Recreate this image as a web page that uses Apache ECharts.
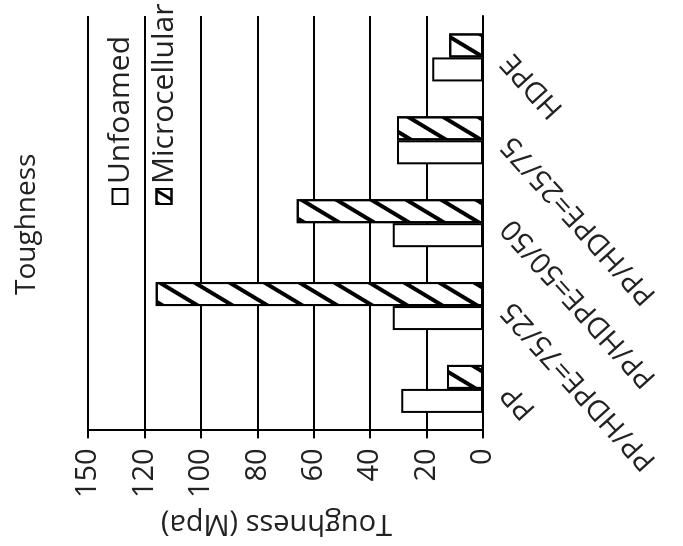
<!DOCTYPE html>
<html>
<head>
<meta charset="utf-8">
<script src="https://cdn.jsdelivr.net/npm/echarts@6.0.0/dist/echarts.min.js"></script>
<style>
  html, body { margin: 0; padding: 0; background: #fff; width: 683px; height: 546px; overflow: hidden; }
  /* the figure is printed turned on its side, so draw it upright and turn the box */
  #main { position: absolute; left: 0; top: 0; width: 546px; height: 683px;
          transform-origin: 0 0; transform: translateY(546px) rotate(-90deg); }
</style>
</head>
<body>
<div id="main"></div>
<script>
var categories = ['PP', 'PP/HDPE=75/25', 'PP/HDPE=50/50', 'PP/HDPE=25/75', 'HDPE'];
var unfoamed = [29, 32, 32, 30.5, 18];
var microcellular = [12.8, 116, 66, 30.5, 12];
var tickLabels = ['0', '20', '40', '60', '80', '100', '120', '150'];

var font = 'Open Sans';
var chart = echarts.init(document.getElementById('main'), null, { width: 546, height: 683 });

var hatch = {
  symbol: 'rect',
  symbolSize: 1,
  color: '#000',
  dashArrayX: [1, 0],
  dashArrayY: [4, 14],
  rotation: -Math.PI * 59 / 180
};
// smaller stripes so one crosses the little legend box
var hatchSmall = {
  symbol: 'rect',
  symbolSize: 1,
  color: '#000',
  dashArrayX: [1, 0],
  dashArrayY: [3, 7],
  rotation: -Math.PI * 59 / 180
};

var option = {
  backgroundColor: '#fff',
  animation: false,
  title: {
    text: 'Toughness',
    left: 246,
    top: 8,
    textStyle: { fontFamily: font, fontSize: 28, fontWeight: 'normal', color: '#222' }
  },
  legend: {
    orient: 'vertical',
    left: 341,
    top: 105,
    padding: 0,
    itemWidth: 15,
    itemHeight: 15,
    itemGap: 14,
    icon: 'rect',
    data: [
      { name: 'Unfoamed' },
      { name: 'Microcellular', itemStyle: { decal: hatchSmall } }
    ],
    textStyle: { fontFamily: font, fontSize: 30, color: '#222' }
  },
  grid: { left: 109, right: 16, top: 88, bottom: 200 },
  xAxis: {
    type: 'category',
    data: categories,
    axisLine: { lineStyle: { color: '#000', width: 2 } },
    axisTick: { length: 7, lineStyle: { color: '#000', width: 2 } },
    axisLabel: { rotate: 42, margin: 24, fontFamily: font, fontSize: 29, color: '#222' }
  },
  yAxis: {
    type: 'value',
    min: 0,
    max: 140,
    interval: 20,
    name: 'Toughness (Mpa)',
    nameLocation: 'middle',
    nameRotate: 90,
    nameGap: 78,
    nameTextStyle: { fontFamily: font, fontSize: 29, color: '#222', padding: [0, 0, 0, 18] },
    axisLine: { show: true, lineStyle: { color: '#000', width: 2 } },
    axisTick: { show: true, length: 8, lineStyle: { color: '#000', width: 2 } },
    splitLine: { lineStyle: { color: '#000', width: 2 } },
    axisLabel: {
      margin: 18,
      fontFamily: font,
      fontSize: 29,
      color: '#222',
      formatter: function (v) { return tickLabels[Math.round(v / 20)]; }
    }
  },
  series: [{
      name: 'Unfoamed',
      type: 'bar',
      barWidth: 24,
      barGap: '0%',
      itemStyle: { color: '#fff', borderColor: '#000', borderWidth: 2 },
      data: unfoamed
    },
    {
      name: 'Microcellular',
      type: 'bar',
      barWidth: 24,
      barGap: '0%',
      itemStyle: { color: '#fff', borderColor: '#000', borderWidth: 2, decal: hatch },
      data: microcellular
    }
  ]
};
chart.setOption(option);
</script>
</body>
</html>
